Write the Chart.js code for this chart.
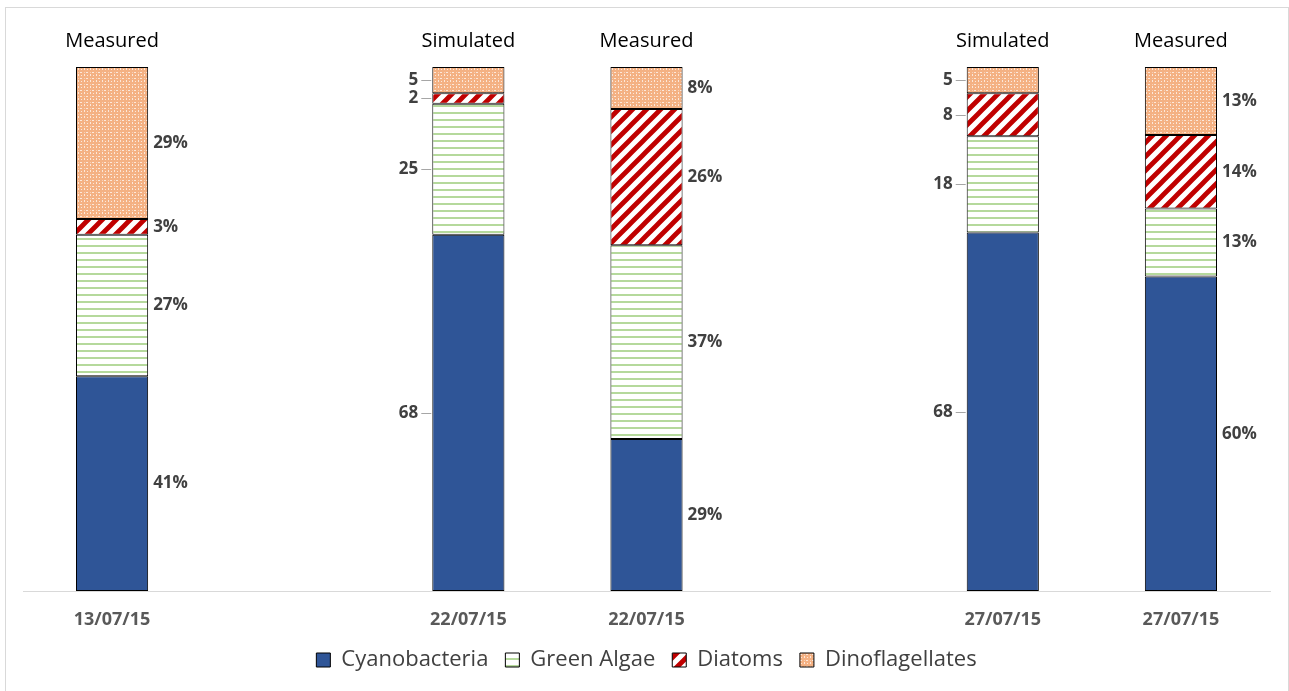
<!DOCTYPE html>
<html>
<head>
<meta charset="utf-8">
<script src="https://cdn.jsdelivr.net/npm/chart.js@4.4.1/dist/chart.umd.min.js"></script>
<style>
  html, body { margin: 0; padding: 0; background: #fff; overflow: hidden; }
  #wrap { position: relative; width: 1289px; height: 691px; }
  #frame { position: absolute; left: 5px; top: 7px; width: 1282px; height: 720px; border: 1px solid #D9D9D9; pointer-events: none; }
  canvas { position: absolute; left: 0; top: 0; }
</style>
</head>
<body>
<div id="wrap">
  <canvas id="c" width="1289" height="691"></canvas>
  <div id="frame"></div>
</div>
<script>
// ---- Data ----
const dateLabels = ["13/07/15", "", "22/07/15", "22/07/15", "", "27/07/15", "27/07/15"];
const typeLabels = ["Measured", "", "Simulated", "Measured", "", "Simulated", "Measured"];
const cyanobacteria   = [41, null, 68, 29, null, 68.4, 60];
const greenAlgae      = [27, null, 25, 37, null, 18.4, 13];
const diatoms         = [3,  null, 2,  26, null, 8.2,  14];
const dinoflagellates = [29, null, 5,  8,  null, 5.0,  13];
const seriesNames = ["Cyanobacteria", "Green Algae", "Diatoms", "Dinoflagellates"];

// ---- Patterns ----
function makePattern(w, h, draw) {
  const c = document.createElement('canvas');
  c.width = w; c.height = h;
  const g = c.getContext('2d');
  draw(g, w, h);
  return g.createPattern(c, 'repeat');
}
const ctxMain = document.getElementById('c').getContext('2d');
const greenPattern = makePattern(8, 7, (g, w, h) => {
  g.fillStyle = '#ffffff'; g.fillRect(0, 0, w, h);
  g.fillStyle = '#B5D99C'; g.fillRect(0, 0, w, 2);
});
const diatomPattern = makePattern(14, 14, (g, w, h) => {
  g.fillStyle = '#ffffff'; g.fillRect(0, 0, w, h);
  g.strokeStyle = '#C00000'; g.lineWidth = 4.8;
  g.beginPath();
  g.moveTo(-2, 16); g.lineTo(16, -2);
  g.moveTo(-9, 9); g.lineTo(9, -9);
  g.moveTo(5, 23); g.lineTo(23, 5);
  g.stroke();
});
const dinoPattern = makePattern(6, 6, (g, w, h) => {
  g.fillStyle = '#F4B183'; g.fillRect(0, 0, w, h);
  g.fillStyle = 'rgba(255,255,255,0.7)';
  g.fillRect(0, 2, 1, 2); g.fillRect(2, 0, 2, 1);
  g.fillRect(3, 3, 1, 1);
  g.fillStyle = 'rgba(255,255,255,0.4)';
  g.fillRect(0, 0, 1, 1);
});

const colors = ['#2F5597', greenPattern, diatomPattern, dinoPattern];
const values = [cyanobacteria, greenAlgae, diatoms, dinoflagellates];
const FONT = '"Open Sans", "DejaVu Sans", sans-serif';

// ---- Data labels plugin ----
const labelPlugin = {
  id: 'segLabels',
  afterDatasetsDraw(chart) {
    const ctx = chart.ctx;
    ctx.save();
    ctx.font = 'bold 17px ' + FONT;
    ctx.fillStyle = '#404040';
    ctx.textBaseline = 'middle';
    chart.data.datasets.forEach((ds, di) => {
      const meta = chart.getDatasetMeta(di);
      meta.data.forEach((bar, i) => {
        const v = ds.data[i];
        if (v === null || v === undefined) return;
        const p = bar.getProps(['x', 'y', 'base', 'width'], true);
        const mid = (p.y + p.base) / 2;
        const left = p.x - p.width / 2, right = p.x + p.width / 2;
        if (typeLabels[i] === 'Simulated') {
          ctx.strokeStyle = '#A6A6A6'; ctx.lineWidth = 1;
          ctx.beginPath(); ctx.moveTo(left - 11, Math.round(mid) + 0.5); ctx.lineTo(left - 1, Math.round(mid) + 0.5); ctx.stroke();
          ctx.textAlign = 'right';
          ctx.fillText(String(Math.round(v)), left - 14, mid);
        } else {
          ctx.textAlign = 'left';
          ctx.fillText(Math.round(v) + '%', right + 5, mid);
        }
      });
    });
    ctx.restore();
  }
};

new Chart(ctxMain, {
  type: 'bar',
  data: {
    labels: dateLabels,
    datasets: values.map((arr, k) => ({
      label: seriesNames[k],
      data: arr,
      backgroundColor: colors[k],
      borderColor: '#000000',
      borderWidth: 1,
      borderSkipped: false,
      barPercentage: 0.405,
      categoryPercentage: 1.0,
      xAxisID: 'x'
    }))
  },
  options: {
    responsive: false,
    animation: false,
    devicePixelRatio: 1,
    layout: { padding: { left: 23, right: 19, top: 0, bottom: 10 } },
    plugins: {
      tooltip: { enabled: false },
      legend: {
        position: 'bottom',
        labels: {
          boxWidth: 14, boxHeight: 14,
          padding: 17,
          color: '#404040',
          font: { size: 22, family: FONT }
        }
      }
    },
    scales: {
      x: {
        position: 'bottom',
        stacked: true,
        grid: { display: false, drawTicks: false },
        border: { display: true, color: '#D9D9D9', width: 1 },
        ticks: {
          autoSkip: false, maxRotation: 0, padding: 18,
          color: '#595959',
          font: { size: 18, weight: 'bold', family: FONT }
        },
        afterFit(s) { s.height = 41; }
      },
      xTop: {
        type: 'category',
        position: 'top',
        labels: typeLabels,
        grid: { display: false, drawTicks: false },
        border: { display: false },
        ticks: {
          autoSkip: false, maxRotation: 0, padding: 14,
          color: '#000000',
          font: { size: 20, family: FONT }
        },
        afterFit(s) { s.height = 67; }
      },
      y: {
        stacked: true,
        display: false,
        min: 0, max: 100
      }
    }
  },
  plugins: [labelPlugin]
});
</script>
</body>
</html>
